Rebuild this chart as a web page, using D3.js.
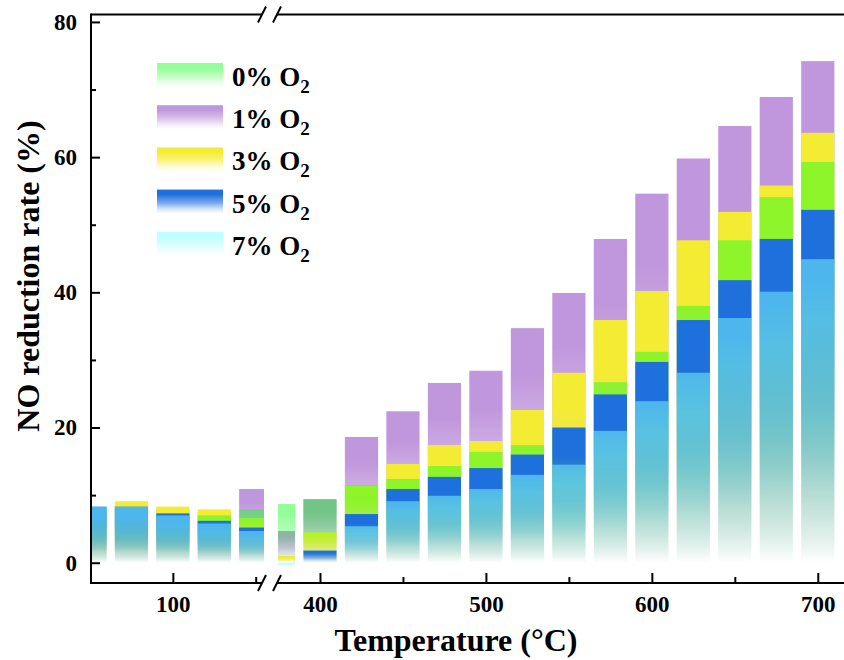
<!DOCTYPE html>
<html>
<head>
<meta charset="utf-8">
<title>NO reduction rate</title>
<script src="https://cdn.jsdelivr.net/npm/d3@7"></script>
<style>
  body { margin: 0; background: #fff; }
  svg text { font-family: "Liberation Serif", "Times New Roman", serif; font-weight: bold; fill: #000; }
</style>
</head>
<body>
<script>
// temperatures (deg C), axis is broken between 150 and 375
const temps = [50, 75, 100, 125, 150, 375, 400, 425, 450, 475, 500, 525, 550, 575, 600, 625, 650, 675, 700];

// NO reduction rate (%) per O2 level
const o2_0 = [7.8, 8.0, 7.1, 7.0, 7.9, 8.7, 9.4, 11.5, 12.4, 14.3, 16.4, 17.4, 19.6, 26.7, 31.2, 38.0, 47.7, 54.1, 59.3];
const o2_1 = [7.5, 8.0, 7.8, 7.5, 10.9, 4.7, 9.4, 18.6, 22.4, 26.6, 28.4, 34.7, 39.9, 47.9, 54.6, 59.8, 64.6, 68.9, 74.2];
const o2_3 = [8.1, 9.1, 8.3, 7.9, 6.6, 1.0, 4.5, 11.4, 14.6, 17.4, 18.0, 22.6, 28.1, 35.9, 40.2, 47.7, 51.9, 55.8, 63.6];
const o2_5 = [8.3, 8.3, 7.3, 6.2, 5.2, 0, 1.8, 7.2, 10.9, 12.7, 14.0, 16.0, 20.0, 24.9, 29.7, 35.9, 41.8, 47.9, 52.2];
const o2_7 = [8.3, 8.3, 7.0, 5.8, 4.7, -0.6, 0, 5.4, 9.1, 9.9, 10.9, 13.0, 14.5, 19.5, 23.9, 28.1, 36.2, 40.1, 44.9];

const legendLabels = ['0%', '1%', '3%', '5%', '7%'];
const yMajor = [0, 20, 40, 60, 80];
const yMinor = [10, 30, 50, 70];
const xLowMajor = [100], xLowMinor = [150];
const xHighMajor = [400, 500, 600, 700], xHighMinor = [450, 550, 650];

// series in legend order, with colour / opacity
const series = [
    { label: legendLabels[0], values: o2_0, color: 'rgb(16,255,29)', op: 0.45 },
    { label: legendLabels[1], values: o2_1, color: '#c097dc', op: 1 },
    { label: legendLabels[2], values: o2_3, color: '#f4ec33', op: 1 },
    { label: legendLabels[3], values: o2_5, color: '#1e70dc', op: 1 },
    { label: legendLabels[4], values: o2_7, color: 'rgb(126,255,255)', op: 0.49 }
];
// drawing order: back to front
const drawOrder = [1, 2, 0, 3, 4];

const width = 844, height = 660;
const svg = d3.select('body').append('svg')
    .attr('width', width)
    .attr('height', height);

const pLeft = 91, pRight = 844, pTop = 14.5, pBottom = 583;
const brkL = 264, brkR = 278;

const xLow = d3.scaleLinear().domain([50.6, 155]).range([pLeft, brkL]);
const xHigh = d3.scaleLinear().domain([374.7, 715.8]).range([brkR, pRight]);
const y = d3.scaleLinear().domain([-3, 81.1]).range([pBottom, pTop]);
const seg = t => t < 300 ? xLow : xHigh;
const barW = xHigh(20) - xHigh(0);

// vertical fade: full colour at the top of each bar, transparent at its foot
const fade = [[0, 1], [0.2, 1], [0.55, 0.6], [0.8, 0.2], [1, 0]];
const defs = svg.append('defs');
series.forEach((s, i) => {
    const g = defs.append('linearGradient')
        .attr('id', 'grad' + i)
        .attr('x1', 0).attr('y1', 0).attr('x2', 0).attr('y2', 1);
    fade.forEach(([o, k]) => {
        g.append('stop').attr('offset', o).attr('stop-color', s.color).attr('stop-opacity', s.op * k);
    });
});
defs.append('clipPath').attr('id', 'clipLow')
    .append('rect').attr('x', pLeft).attr('y', pTop).attr('width', brkL - pLeft).attr('height', pBottom - pTop);
defs.append('clipPath').attr('id', 'clipHigh')
    .append('rect').attr('x', brkR).attr('y', pTop).attr('width', pRight - brkR).attr('height', pBottom - pTop);

// bars, overlapped
const bars = svg.append('g');
drawOrder.forEach(i => {
    const s = series[i];
    bars.append('g')
        .selectAll('rect')
        .data(temps.map((t, j) => ({ t: t, v: s.values[j] })))
        .join('rect')
        .attr('clip-path', d => d.t < 300 ? 'url(#clipLow)' : 'url(#clipHigh)')
        .attr('x', d => seg(d.t)(d.t) - barW / 2)
        .attr('y', d => y(Math.max(d.v, 0)))
        .attr('width', barW)
        .attr('height', d => Math.abs(y(d.v) - y(0)))
        .attr('fill', 'url(#grad' + i + ')');
});

// axes
function styleAxis(g) {
    g.select('.domain').remove();
    g.selectAll('line').attr('stroke', '#000').attr('stroke-width', 2);
    g.selectAll('text').attr('font-size', 23).attr('font-family', null);
}

svg.append('g').attr('transform', `translate(${pLeft},0)`)
    .call(d3.axisLeft(y).tickValues(yMajor).tickSize(-9).tickPadding(14))
    .call(styleAxis);
svg.append('g').attr('transform', `translate(${pLeft},0)`)
    .call(d3.axisLeft(y).tickValues(yMinor).tickSize(-5).tickFormat(''))
    .call(styleAxis);

[[xLow, xLowMajor, xLowMinor], [xHigh, xHighMajor, xHighMinor]].forEach(([sc, maj, min]) => {
    svg.append('g').attr('transform', `translate(0,${pBottom})`)
        .call(d3.axisBottom(sc).tickValues(maj).tickSize(-10).tickPadding(13))
        .call(styleAxis);
    svg.append('g').attr('transform', `translate(0,${pBottom})`)
        .call(d3.axisBottom(sc).tickValues(min).tickSize(-6).tickFormat(''))
        .call(styleAxis);
});

// frame lines with breaks
const frame = svg.append('g').attr('stroke', '#000').attr('stroke-width', 2).attr('fill', 'none');
frame.append('line').attr('x1', pLeft).attr('x2', pLeft).attr('y1', pTop - 1).attr('y2', pBottom + 1);
[pTop, pBottom].forEach(yy => {
    frame.append('line').attr('x1', pLeft).attr('x2', brkL - 2).attr('y1', yy).attr('y2', yy);
    frame.append('line').attr('x1', brkR - 1).attr('x2', pRight).attr('y1', yy).attr('y2', yy);
    [brkL - 2, brkR - 1].forEach(xx => {
        frame.append('line')
            .attr('x1', xx - 4).attr('y1', yy + 8)
            .attr('x2', xx + 4).attr('y2', yy - 8);
    });
});

// axis titles
svg.append('text')
    .attr('x', 456).attr('y', 651)
    .attr('text-anchor', 'middle')
    .attr('font-size', 32)
    .text('Temperature (°C)');
svg.append('text')
    .attr('transform', 'translate(39,276) rotate(-90)')
    .attr('text-anchor', 'middle')
    .attr('font-size', 32)
    .text('NO reduction rate (%)');

// legend
const legend = svg.append('g');
series.forEach((s, i) => {
    const ly = 63 + i * 42.2;
    legend.append('rect')
        .attr('x', 157).attr('y', ly)
        .attr('width', 66).attr('height', 24)
        .attr('fill', 'url(#grad' + i + ')');
    const t = legend.append('text')
        .attr('x', 232).attr('y', ly + 23)
        .attr('font-size', 27);
    t.append('tspan').text(s.label + ' O');
    t.append('tspan').attr('font-size', 19).attr('dy', 7).text('2');
});
</script>
</body>
</html>
